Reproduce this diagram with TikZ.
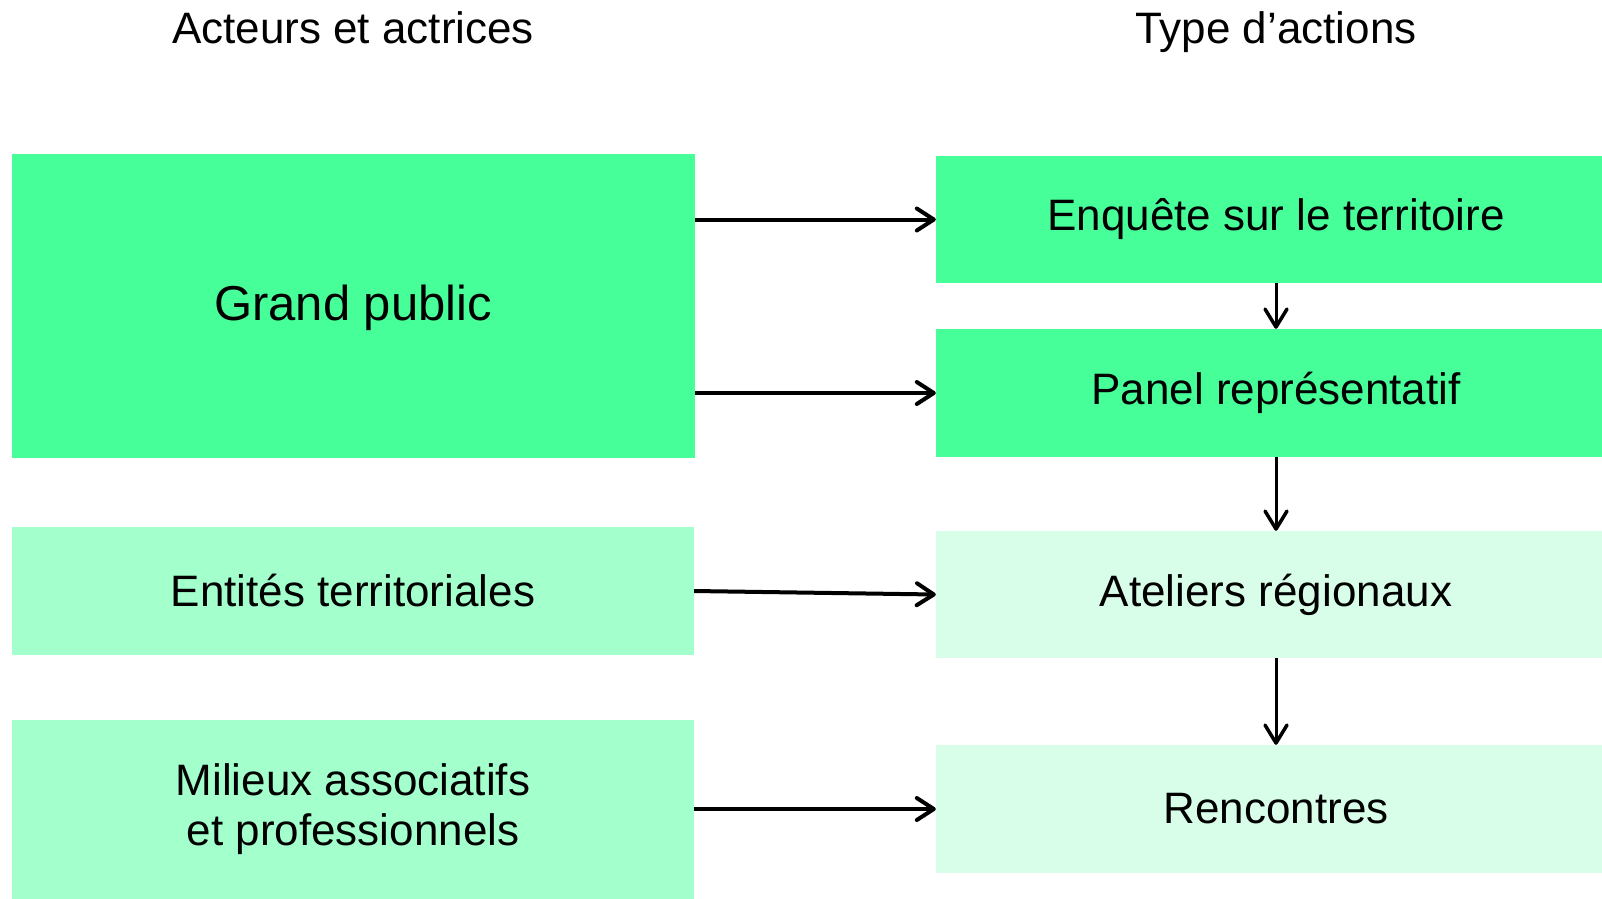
\documentclass[tikz,border=0pt]{standalone}
\usepackage{fontspec}
\setmainfont{Liberation Sans}
\usetikzlibrary{arrows.meta}
\definecolor{gdark}{HTML}{47FF99}
\definecolor{gmid}{HTML}{A3FFCC}
\definecolor{glight}{HTML}{D8FEE9}
\tikzset{
  box/.style={rectangle, inner sep=0pt, align=center, font=\fontsize{44}{50}\selectfont},
  ttl/.style={inner sep=0pt, anchor=base, font=\fontsize{44}{50}\selectfont},
  conn/.style={line width=4pt, -{Straight Barb[length=17pt,width=22pt,line width=4pt,round]}},
  vconn/.style={line width=3pt, -{Straight Barb[length=18pt,width=22pt,line width=3.5pt,round]}}
}
\begin{document}
\begin{tikzpicture}[x=1pt,y=-1pt]
\useasboundingbox (0,0) rectangle (1602,898);
\node[ttl] (t1) at (353,43) {Acteurs et actrices};
\node[ttl] (t2) at (1276,43) {Type d’actions};
\node[box, fill=gdark, minimum width=683pt, minimum height=304pt] (gp) at (353.5,306) {};
\node[box, font=\fontsize{49}{55}\selectfont] (gpt) at (353,308) {Grand public};
\node[box, fill=gmid, minimum width=682pt, minimum height=128pt] (ent) at (353,591) {Entités territoriales};
\node[box, fill=gmid, minimum width=682pt, minimum height=179pt] (mil) at (353,809) {Milieux associatifs\\et professionnels};
\node[box, fill=gdark, minimum width=680pt, minimum height=127pt] (enq) at (1276,219.5) {Enquête sur le territoire};
\node[box, fill=gdark, minimum width=680pt, minimum height=128pt] (pan) at (1276,393) {Panel représentatif};
\node[box, fill=glight, minimum width=680pt, minimum height=127pt] (ate) at (1276,594.5) {Ateliers régionaux};
\node[box, fill=glight, minimum width=680pt, minimum height=128pt] (ren) at (1276,809) {Rencontres};
\draw[conn] (gp.east |- enq.west) -- (enq.west);
\draw[conn] (gp.east |- pan.west) -- (pan.west);
\draw[conn] (ent.east) -- (ate.west);
\draw[conn] (mil.east) -- (ren.west);
\draw[vconn] (enq.south) -- (pan.north);
\draw[vconn] (pan.south) -- (ate.north);
\draw[vconn] (ate.south) -- (ren.north);
\end{tikzpicture}
\end{document}
